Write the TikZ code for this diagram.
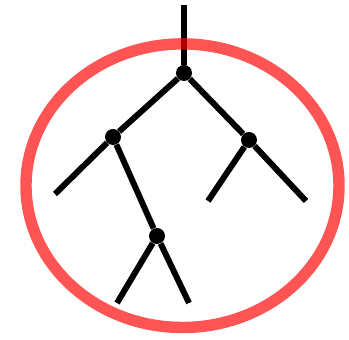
\documentclass[tikz,border=0pt]{standalone}
\begin{document}
\begin{tikzpicture}[x=0.02cm,y=-0.02cm,
    knot/.style={circle,fill=black,inner sep=0pt,minimum size=0.32cm},
    branch/.style={line width=3.4pt,black}]
    % 画布大小
    \useasboundingbox (0,0) rectangle (349,340);

    % 定义结点
    \node[knot] (R) at (184,73) {};
    \node[knot] (L) at (113,137) {};
    \node[knot] (M) at (249,140) {};
    \node[knot] (K) at (157,236) {};
    % 叶子端点
    \coordinate (top) at (184,5);
    \coordinate (L1) at (55,194);
    \coordinate (M1) at (208,201);
    \coordinate (M2) at (306,201);
    \coordinate (K1) at (117,303);
    \coordinate (K2) at (189,303);

    % 画树枝
    \draw[branch] (top) -- (R);
    \draw[branch] (R) -- (L);
    \draw[branch] (R) -- (M);
    \draw[branch] (L) -- (L1);
    \draw[branch] (L) -- (K);
    \draw[branch] (M) -- (M1);
    \draw[branch] (M) -- (M2);
    \draw[branch] (K) -- (K1);
    \draw[branch] (K) -- (K2);

    % 外面的椭圆（半透明）
    \draw[red,opacity=0.67,line width=6.5pt] (182.5,185.7) ellipse [x radius=156.5, y radius=141.8];
\end{tikzpicture}
\end{document}
